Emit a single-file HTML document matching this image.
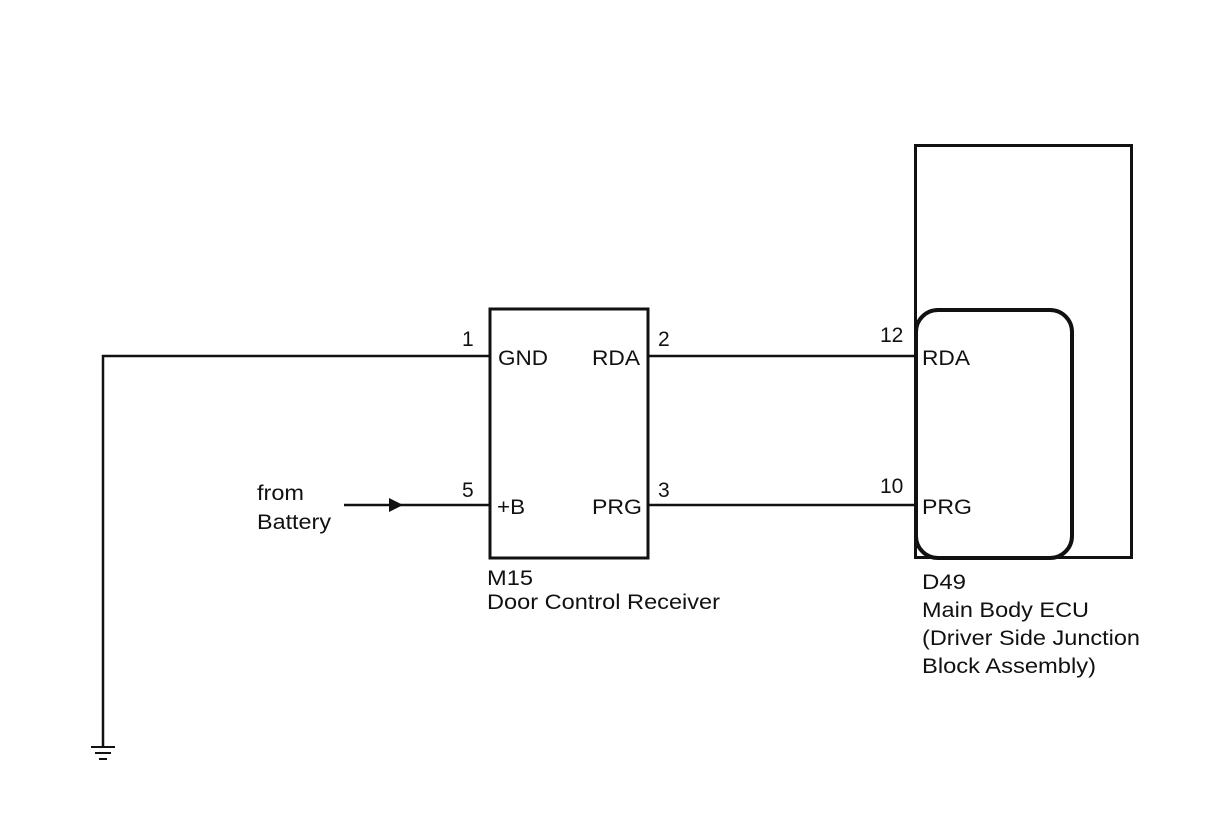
<!DOCTYPE html>
<html><head><style>
html,body{margin:0;padding:0;background:#fff;}
svg text{font-family:"Liberation Sans",Arial,sans-serif;font-size:21px;fill:#111;}
</style></head><body>
<svg width="1210" height="814" xmlns="http://www.w3.org/2000/svg">
<g stroke="#111" fill="none">
<polyline points="490,356 103,356 103,747" stroke-width="2.5"/>
<line x1="91" y1="747" x2="115" y2="747" stroke-width="2"/>
<line x1="95" y1="753" x2="111" y2="753" stroke-width="2"/>
<line x1="99" y1="759" x2="107" y2="759" stroke-width="2"/>
<line x1="344" y1="505" x2="490" y2="505" stroke-width="2.5"/>
<rect x="490" y="309" width="158" height="249" stroke-width="3"/>
<line x1="648" y1="356" x2="915" y2="356" stroke-width="2.5"/>
<line x1="648" y1="505" x2="915" y2="505" stroke-width="2.5"/>
<rect x="915.5" y="145.5" width="216" height="412" stroke-width="3"/>
<rect x="916" y="310" width="156" height="248" rx="22" ry="22" stroke-width="4"/>
</g>
<polygon points="389,498 403,505 389,512" fill="#111"/>
<text x="462" y="346">1</text>
<text x="498" y="365" textLength="50" lengthAdjust="spacingAndGlyphs">GND</text>
<text x="592" y="365" textLength="48" lengthAdjust="spacingAndGlyphs">RDA</text>
<text x="658" y="346">2</text>
<text x="462" y="497">5</text>
<text x="497" y="514" textLength="28" lengthAdjust="spacingAndGlyphs">+B</text>
<text x="592" y="514" textLength="50" lengthAdjust="spacingAndGlyphs">PRG</text>
<text x="658" y="497">3</text>
<text x="257" y="500" textLength="47" lengthAdjust="spacingAndGlyphs">from</text>
<text x="257" y="529" textLength="74" lengthAdjust="spacingAndGlyphs">Battery</text>
<text x="487" y="585" textLength="46" lengthAdjust="spacingAndGlyphs">M15</text>
<text x="487" y="609" textLength="233" lengthAdjust="spacingAndGlyphs">Door Control Receiver</text>
<text x="880" y="342">12</text>
<text x="922" y="365" textLength="48" lengthAdjust="spacingAndGlyphs">RDA</text>
<text x="880" y="493">10</text>
<text x="922" y="514" textLength="50" lengthAdjust="spacingAndGlyphs">PRG</text>
<text x="922" y="589" textLength="44" lengthAdjust="spacingAndGlyphs">D49</text>
<text x="922" y="617" textLength="167" lengthAdjust="spacingAndGlyphs">Main Body ECU</text>
<text x="922" y="645" textLength="218" lengthAdjust="spacingAndGlyphs">(Driver Side Junction</text>
<text x="922" y="673" textLength="174" lengthAdjust="spacingAndGlyphs">Block Assembly)</text>
</svg>
</body></html>
